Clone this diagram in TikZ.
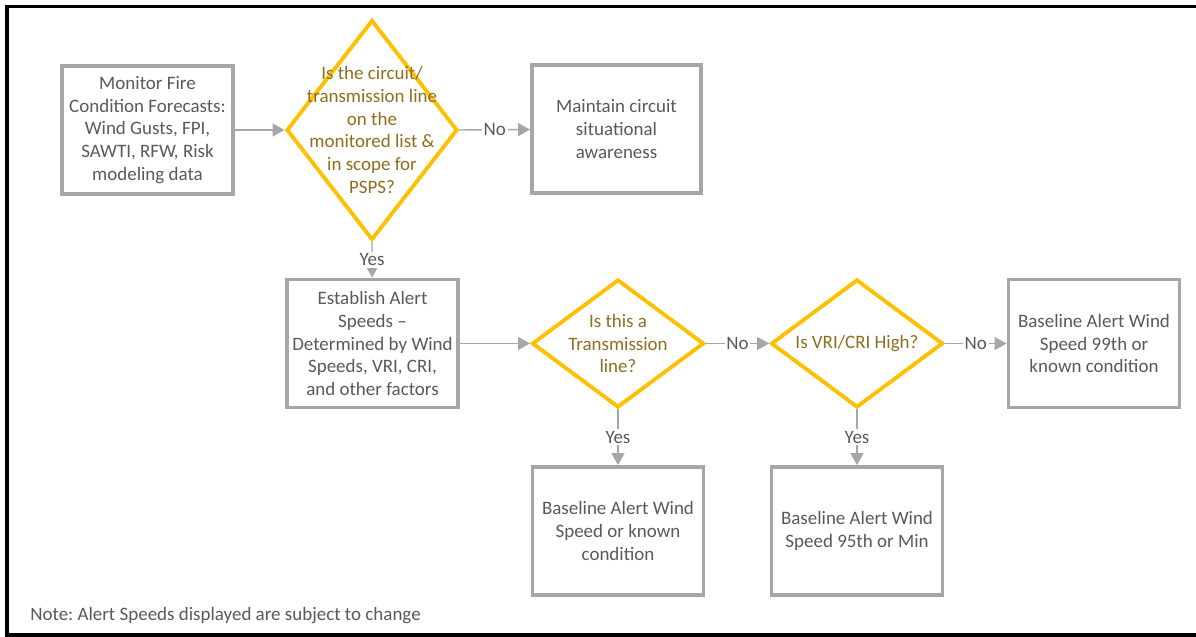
\documentclass[tikz,border=0pt]{standalone}
\usepackage{fontspec}
\setmainfont{Carlito}
\frenchspacing
\usetikzlibrary{shapes.geometric,arrows.meta}

\definecolor{boxgray}{RGB}{166,166,166}
\definecolor{textgray}{RGB}{89,89,89}
\definecolor{gold}{RGB}{255,192,0}
\definecolor{goldtext}{RGB}{140,110,30}

\tikzset{
  box/.style={draw=boxgray, line width=2.2pt, minimum width=3.42cm, minimum height=2.56cm,
    inner sep=0pt, align=center, text=textgray, font=\fontsize{10.8}{13}\selectfont},
  decision/.style={diamond, draw=gold, line width=2.2pt, minimum width=3.44cm, minimum height=2.56cm,
    inner sep=0pt},
  question/.style={align=center, text=goldtext, font=\fontsize{10.8}{13}\selectfont},
  flow/.style={draw=boxgray, line width=0.8pt, -{Triangle[length=0.24cm,width=0.26cm]}},
  answer/.style={fill=white, inner sep=1pt, text=textgray, font=\fontsize{10.8}{13}\selectfont}
}

\begin{document}
\begin{tikzpicture}

    \useasboundingbox (0,0) rectangle (23.92,-12.74);

    % Frame
    \draw[line width=2.2pt] (23.92,-0.13) -- (0.14,-0.13) -- (0.14,-12.7) -- (23.92,-12.7);

    % Boxes
    \node[box, minimum width=3.42cm, minimum height=2.56cm] (monitor) at (2.95,-2.6)
        {Monitor Fire\\Condition Forecasts:\\Wind Gusts, FPI,\\SAWTI, RFW, Risk\\modeling data};
    \node[box, minimum width=3.38cm] (maintain) at (12.33,-2.58)
        {Maintain circuit\\situational\\awareness};
    \node[box] (establish) at (7.45,-6.87)
        {Establish Alert\\Speeds --\\Determined by Wind\\Speeds, VRI, CRI,\\and other factors};
    \node[box] (base99) at (21.88,-6.87)
        {Baseline Alert Wind\\Speed 99th or\\known condition};
    \node[box] (baseknown) at (12.36,-10.62)
        {Baseline Alert Wind\\Speed or known\\condition};
    \node[box] (base95) at (17.14,-10.62)
        {Baseline Alert Wind\\Speed 95th or Min};

    % Decisions
    \node[decision, minimum width=3.42cm, minimum height=4.4cm] (scope) at (7.44,-2.6) {};
    \node[question] (scopetext) at (scope)
        {Is the circuit/\\transmission line\\on the\\monitored list \&\\in scope for\\PSPS?};
    \node[decision] (trans) at (12.36,-6.87) {};
    \node[question] (transtext) at (trans) {Is this a\\Transmission\\line?};
    \node[decision] (risk) at (17.14,-6.87) {};
    \node[question] (risktext) at (risk) {Is VRI/CRI High?};

    % Connectors
    \draw[flow] (monitor) -- (scope);
    \draw[flow] (scope.east) -- node[answer] {No} (maintain);
    \draw[flow] (scope.south) -- node[answer] {Yes} (establish);
    \draw[flow] (establish) -- (trans);
    \draw[flow] (trans.east) -- node[answer] {No} (risk.west);
    \draw[flow] (risk.east) -- node[answer] {No} (base99);
    \draw[flow] (trans.south) -- node[answer] {Yes} (baseknown);
    \draw[flow] (risk.south) -- node[answer] {Yes} (base95);

    % Note
    \node[anchor=west, inner sep=0pt, text=textgray, font=\fontsize{10.8}{13}\selectfont] (note) at (0.6,-12.32)
        {Note: Alert Speeds displayed are subject to change};

\end{tikzpicture}
\end{document}
